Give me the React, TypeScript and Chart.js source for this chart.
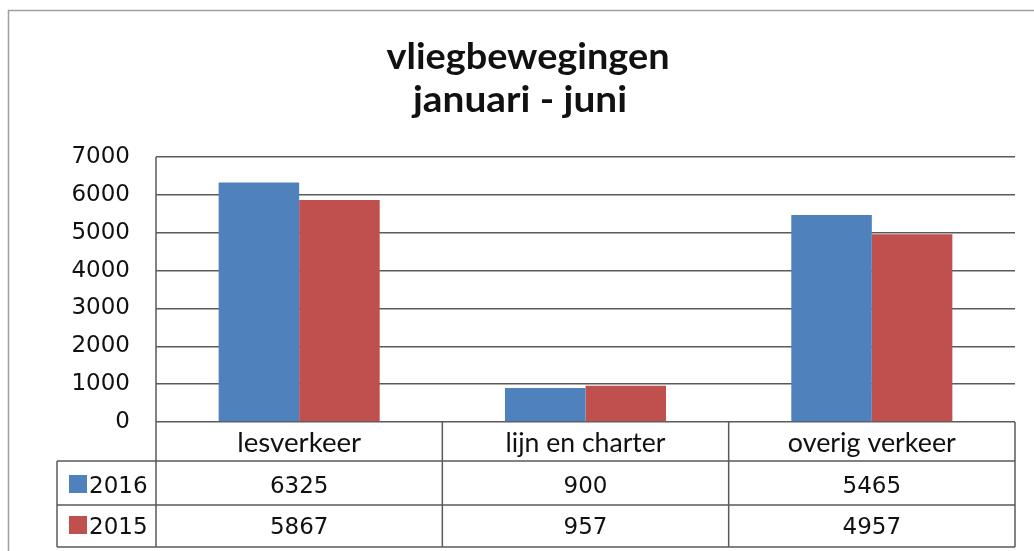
import React, { useEffect, useRef } from "react";
import { Chart, registerables } from "chart.js";

Chart.register(...registerables);

const titleLines = ["vliegbewegingen", "januari - juni"];
const categories = ["lesverkeer", "lijn en charter", "overig verkeer"];
const seriesNames = ["2016", "2015"];
const values2016 = [6325, 900, 5465];
const values2015 = [5867, 957, 4957];
const seriesColors = ["#4F81BD", "#C0504D"];
const yMax = 7000;
const yStep = 1000;

const NUM_FONT = '"DejaVu Sans", Verdana, sans-serif';
const TXT_FONT = 'Lato, "Open Sans", sans-serif';

function fitText(ctx: CanvasRenderingContext2D, text: string, cx: number, baseline: number, targetW: number) {
  const w = ctx.measureText(text).width;
  const sx = targetW / w;
  ctx.save();
  ctx.translate(cx, baseline);
  ctx.scale(sx, 1);
  ctx.textAlign = "center";
  ctx.textBaseline = "alphabetic";
  ctx.fillText(text, 0, 0);
  ctx.restore();
}

const tablePlugin = {
  id: "excelTable",
  afterDraw(chart: any) {
    const ctx: CanvasRenderingContext2D = chart.ctx;
    const area = chart.chartArea;
    const xs = chart.scales.x;
    const left = area.left;
    const right = area.right;
    const top = area.top;
    const bottom = area.bottom;
    const tableLeft = 57;
    const r1 = bottom + 39;
    const r2 = bottom + 83;
    const r3 = bottom + 125;
    const n = categories.length;
    const colW = (right - left) / n;

    ctx.save();
    // outer frame
    ctx.strokeStyle = "#a0a0a0";
    ctx.lineWidth = 1.5;
    ctx.beginPath();
    ctx.moveTo(8.5, chart.height + 5);
    ctx.lineTo(8.5, 10.5);
    ctx.lineTo(chart.width + 5, 10.5);
    ctx.stroke();

    // title
    ctx.fillStyle = "#111";
    ctx.font = `bold 36px ${TXT_FONT}`;
    fitText(ctx, titleLines[0], 528, 69, 283);
    fitText(ctx, titleLines[1], 520, 112, 214);

    // table lines
    ctx.strokeStyle = "#5a5a5a";
    ctx.lineWidth = 1.5;
    ctx.beginPath();
    ctx.moveTo(left, top);
    ctx.lineTo(left, r3);
    [r1, r2, r3].forEach((y) => {
      ctx.moveTo(tableLeft, y);
      ctx.lineTo(right, y);
    });
    ctx.moveTo(tableLeft, r1);
    ctx.lineTo(tableLeft, r3);
    for (let i = 1; i <= n; i++) {
      const x = left + colW * i;
      ctx.moveTo(x, bottom);
      ctx.lineTo(x, r3);
    }
    ctx.stroke();

    // category labels
    ctx.fillStyle = "#111";
    ctx.font = `26px ${TXT_FONT}`;
    const catW = [124, 160, 168];
    categories.forEach((c, i) => {
      const cx = xs.getPixelForValue(i);
      fitText(ctx, c, cx, bottom + 30, catW[i]);
    });

    // series rows
    const rows = [values2016, values2015];
    const baselines = [bottom + 71, bottom + 112];
    ctx.font = `23px ${NUM_FONT}`;
    rows.forEach((vals, r) => {
      const by = baselines[r];
      ctx.fillStyle = seriesColors[r];
      ctx.fillRect(69, by - 18, 18, 18);
      ctx.fillStyle = "#111";
      ctx.textAlign = "left";
      ctx.textBaseline = "alphabetic";
      ctx.fillText(seriesNames[r], 89, by);
      ctx.textAlign = "center";
      vals.forEach((v, i) => {
        ctx.fillText(String(v), xs.getPixelForValue(i), by);
      });
    });
    ctx.restore();
  },
};

export default function App() {
  const ref = useRef<HTMLCanvasElement>(null);
  useEffect(() => {
    if (!ref.current) return;
    const chart = new Chart(ref.current, {
      type: "bar",
      data: {
        labels: categories,
        datasets: [
          { label: seriesNames[0], data: values2016, backgroundColor: seriesColors[0], borderWidth: 0 },
          { label: seriesNames[1], data: values2015, backgroundColor: seriesColors[1], borderWidth: 0 },
        ],
      },
      options: {
        responsive: false,
        animation: false,
        devicePixelRatio: 1,
        layout: { padding: { left: 0, right: 19, top: 157, bottom: 129 } },
        plugins: { legend: { display: false }, title: { display: false }, tooltip: { enabled: false } },
        datasets: { bar: { categoryPercentage: 0.5625, barPercentage: 1 } },
        scales: {
          x: { display: false },
          y: {
            min: 0,
            max: yMax,
            afterFit: (scale: any) => {
              scale.width = 156;
            },
            border: { display: false },
            grid: { color: "#5a5a5a", lineWidth: 1.5, drawTicks: false },
            ticks: {
              stepSize: yStep,
              padding: 26,
              color: "#111",
              font: { family: NUM_FONT, size: 23 },
              callback: (v: any) => String(v),
            },
          },
        },
      },
      plugins: [tablePlugin],
    });
    return () => chart.destroy();
  }, []);
  return (
    <div style={{ position: "absolute", left: 0, top: 0, width: 1034, height: 551, background: "#fff" }}>
      <canvas ref={ref} width={1034} height={551} style={{ display: "block" }} />
    </div>
  );
}
